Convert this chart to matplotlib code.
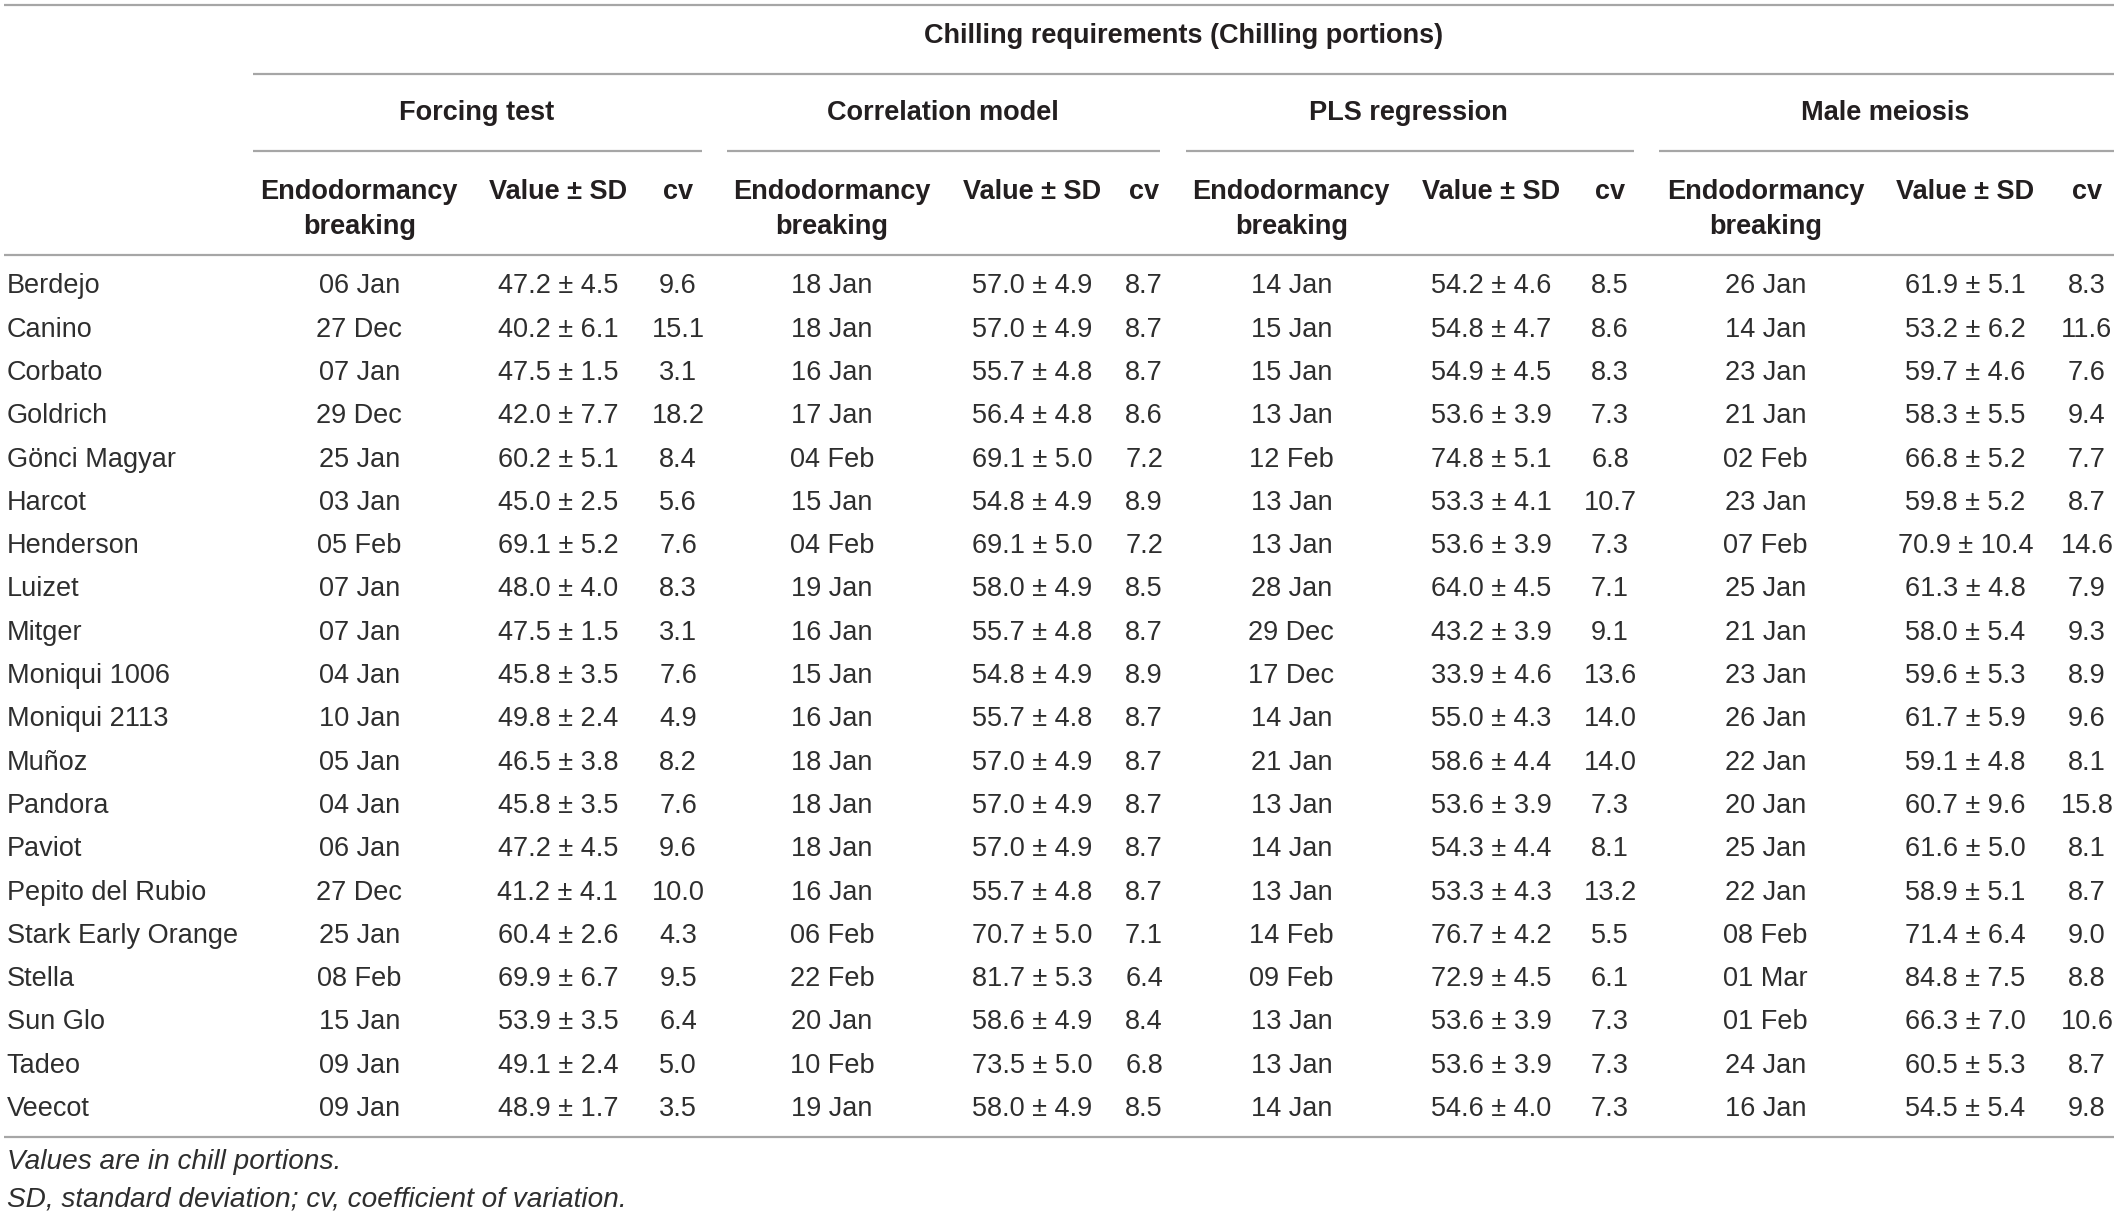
import matplotlib
matplotlib.use("Agg")
import matplotlib.pyplot as plt

''' Data '''
cultivars = ["Berdejo", "Canino", "Corbato", "Goldrich", "Gönci Magyar", "Harcot",
             "Henderson", "Luizet", "Mitger", "Moniqui 1006", "Moniqui 2113", "Muñoz",
             "Pandora", "Paviot", "Pepito del Rubio", "Stark Early Orange", "Stella",
             "Sun Glo", "Tadeo", "Veecot"]

forcing_date = ["06 Jan", "27 Dec", "07 Jan", "29 Dec", "25 Jan", "03 Jan", "05 Feb", "07 Jan",
                "07 Jan", "04 Jan", "10 Jan", "05 Jan", "04 Jan", "06 Jan", "27 Dec", "25 Jan",
                "08 Feb", "15 Jan", "09 Jan", "09 Jan"]
forcing_mean = [47.2, 40.2, 47.5, 42.0, 60.2, 45.0, 69.1, 48.0, 47.5, 45.8, 49.8, 46.5, 45.8,
                47.2, 41.2, 60.4, 69.9, 53.9, 49.1, 48.9]
forcing_sd = [4.5, 6.1, 1.5, 7.7, 5.1, 2.5, 5.2, 4.0, 1.5, 3.5, 2.4, 3.8, 3.5, 4.5, 4.1, 2.6,
              6.7, 3.5, 2.4, 1.7]
forcing_cv = [9.6, 15.1, 3.1, 18.2, 8.4, 5.6, 7.6, 8.3, 3.1, 7.6, 4.9, 8.2, 7.6, 9.6, 10.0,
              4.3, 9.5, 6.4, 5.0, 3.5]

corr_date = ["18 Jan", "18 Jan", "16 Jan", "17 Jan", "04 Feb", "15 Jan", "04 Feb", "19 Jan",
             "16 Jan", "15 Jan", "16 Jan", "18 Jan", "18 Jan", "18 Jan", "16 Jan", "06 Feb",
             "22 Feb", "20 Jan", "10 Feb", "19 Jan"]
corr_mean = [57.0, 57.0, 55.7, 56.4, 69.1, 54.8, 69.1, 58.0, 55.7, 54.8, 55.7, 57.0, 57.0,
             57.0, 55.7, 70.7, 81.7, 58.6, 73.5, 58.0]
corr_sd = [4.9, 4.9, 4.8, 4.8, 5.0, 4.9, 5.0, 4.9, 4.8, 4.9, 4.8, 4.9, 4.9, 4.9, 4.8, 5.0,
           5.3, 4.9, 5.0, 4.9]
corr_cv = [8.7, 8.7, 8.7, 8.6, 7.2, 8.9, 7.2, 8.5, 8.7, 8.9, 8.7, 8.7, 8.7, 8.7, 8.7, 7.1,
           6.4, 8.4, 6.8, 8.5]

pls_date = ["14 Jan", "15 Jan", "15 Jan", "13 Jan", "12 Feb", "13 Jan", "13 Jan", "28 Jan",
            "29 Dec", "17 Dec", "14 Jan", "21 Jan", "13 Jan", "14 Jan", "13 Jan", "14 Feb",
            "09 Feb", "13 Jan", "13 Jan", "14 Jan"]
pls_mean = [54.2, 54.8, 54.9, 53.6, 74.8, 53.3, 53.6, 64.0, 43.2, 33.9, 55.0, 58.6, 53.6,
            54.3, 53.3, 76.7, 72.9, 53.6, 53.6, 54.6]
pls_sd = [4.6, 4.7, 4.5, 3.9, 5.1, 4.1, 3.9, 4.5, 3.9, 4.6, 4.3, 4.4, 3.9, 4.4, 4.3, 4.2,
          4.5, 3.9, 3.9, 4.0]
pls_cv = [8.5, 8.6, 8.3, 7.3, 6.8, 10.7, 7.3, 7.1, 9.1, 13.6, 14.0, 14.0, 7.3, 8.1, 13.2,
          5.5, 6.1, 7.3, 7.3, 7.3]

male_date = ["26 Jan", "14 Jan", "23 Jan", "21 Jan", "02 Feb", "23 Jan", "07 Feb", "25 Jan",
             "21 Jan", "23 Jan", "26 Jan", "22 Jan", "20 Jan", "25 Jan", "22 Jan", "08 Feb",
             "01 Mar", "01 Feb", "24 Jan", "16 Jan"]
male_mean = [61.9, 53.2, 59.7, 58.3, 66.8, 59.8, 70.9, 61.3, 58.0, 59.6, 61.7, 59.1, 60.7,
             61.6, 58.9, 71.4, 84.8, 66.3, 60.5, 54.5]
male_sd = [5.1, 6.2, 4.6, 5.5, 5.2, 5.2, 10.4, 4.8, 5.4, 5.3, 5.9, 4.8, 9.6, 5.0, 5.1, 6.4,
           7.5, 7.0, 5.3, 5.4]
male_cv = [8.3, 11.6, 7.6, 9.4, 7.7, 8.7, 14.6, 7.9, 9.3, 8.9, 9.6, 8.1, 15.8, 8.1, 8.7,
           9.0, 8.8, 10.6, 8.7, 9.8]

group_names = ["Forcing test", "Correlation model", "PLS regression", "Male meiosis"]
super_title = "Chilling requirements (Chilling portions)"
sub_headers = ["Endodormancy", "breaking", "Value \u00b1 SD", "cv"]
footnotes = ["Values are in chill portions.",
             "SD, standard deviation; cv, coefficient of variation."]

''' Layout '''
W, H = 1568, 902.4
FS = 19.5
LINE_C = "#a6a6a6"
HEAD_C = "#231f20"
TXT_C = "#2e2e2e"

group_spans = [(187, 520), (538, 859), (878, 1210), (1228, 1565)]
group_cx = [353, 698, 1043, 1396]
col_x = [(266, 413, 502), (616, 764, 847), (956, 1104, 1192), (1307, 1455, 1545)]
row_y0, row_dy = 212, 32.05

groups = [(forcing_date, forcing_mean, forcing_sd, forcing_cv),
          (corr_date, corr_mean, corr_sd, corr_cv),
          (pls_date, pls_mean, pls_sd, pls_cv),
          (male_date, male_mean, male_sd, male_cv)]

plt.rcParams['font.family'] = ['Liberation Sans', 'DejaVu Sans']

fig = plt.figure(figsize=(21.18, 12.19), dpi=100)
ax = fig.add_axes([0, 0, 1, 1])
ax.set_xlim(0, W)
ax.set_ylim(H, 0)
ax.axis("off")

# rules
ax.hlines([4, 189, 842], 3, 1565, color=LINE_C, lw=1.6)
ax.hlines(55, 187, 1565, color=LINE_C, lw=1.6)
for x0, x1 in group_spans:
    ax.hlines(112, x0, x1, color=LINE_C, lw=1.6)

# headers
ax.text(876, 27, super_title, ha="center", va="center", fontsize=FS,
        fontweight="bold", color=HEAD_C)
for name, cx, cols in zip(group_names, group_cx, col_x):
    ax.text(cx, 84, name, ha="center", va="center", fontsize=FS,
            fontweight="bold", color=HEAD_C)
    ax.text(cols[0], 142, sub_headers[0], ha="center", va="center", fontsize=FS,
            fontweight="bold", color=HEAD_C)
    ax.text(cols[0], 168, sub_headers[1], ha="center", va="center", fontsize=FS,
            fontweight="bold", color=HEAD_C)
    ax.text(cols[1], 142, sub_headers[2], ha="center", va="center", fontsize=FS,
            fontweight="bold", color=HEAD_C)
    ax.text(cols[2], 142, sub_headers[3], ha="center", va="center", fontsize=FS,
            fontweight="bold", color=HEAD_C)

# body
for i, name in enumerate(cultivars):
    y = row_y0 + i * row_dy
    ax.text(5, y, name, ha="left", va="center", fontsize=FS, color=TXT_C)
    for (dates, means, sds, cvs), cols in zip(groups, col_x):
        ax.text(cols[0], y, dates[i], ha="center", va="center", fontsize=FS, color=TXT_C)
        ax.text(cols[1], y, "%.1f \u00b1 %.1f" % (means[i], sds[i]), ha="center",
                va="center", fontsize=FS, color=TXT_C)
        ax.text(cols[2], y, "%.1f" % cvs[i], ha="center", va="center", fontsize=FS,
                color=TXT_C)

# footnotes
ax.text(5, 860, footnotes[0], ha="left", va="center", fontsize=20.2, style="italic", color=TXT_C)
ax.text(5, 888, footnotes[1], ha="left", va="center", fontsize=20.2, style="italic", color=TXT_C)

fig.savefig("out.png", dpi=100, facecolor="white")
